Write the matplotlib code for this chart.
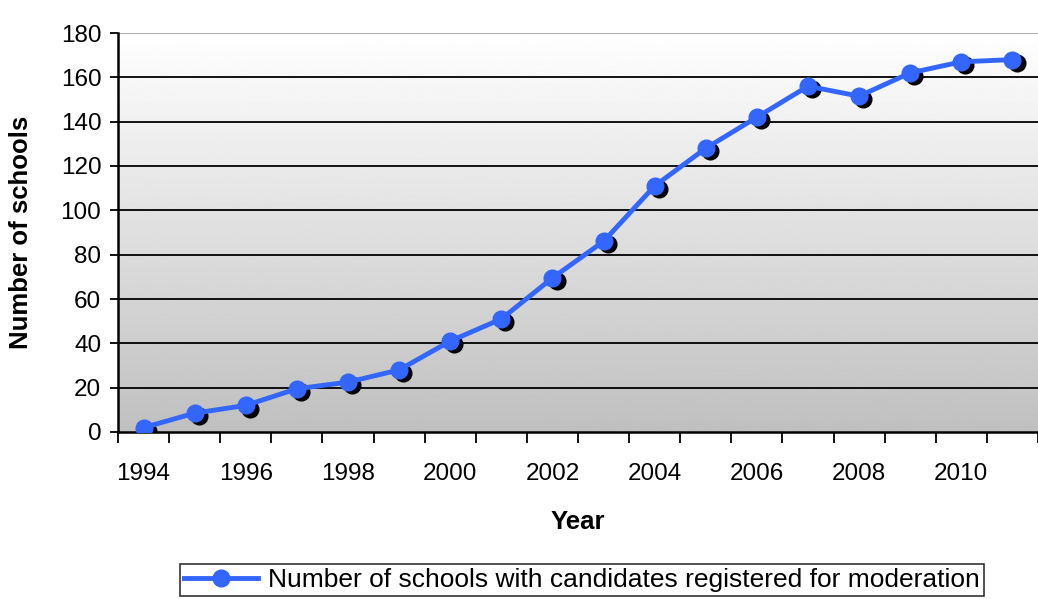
import numpy as np
import matplotlib.pyplot as plt
from matplotlib.lines import Line2D

years = [str(y) for y in range(1994, 2012)]
schools = [2, 8.5, 12, 19.5, 22.5, 28, 41, 51, 69.5, 86, 111, 128, 142, 156, 151.5, 162, 167, 168]

plt.rcParams['font.family'] = ['Liberation Sans', 'DejaVu Sans']

fig = plt.figure(figsize=(10.38, 5.99), dpi=100)
ax = fig.add_axes([118 / 1038, 1 - 432 / 599, 920 / 1038, 399 / 599])

n = len(years)
x = np.arange(n)

# gradient background, white at top to grey at bottom
grad = np.linspace(1.0, 0.75, 256).reshape(-1, 1)
ax.imshow(grad, extent=[-0.5, n - 0.5, 0, 180], aspect='auto', cmap='gray',
          vmin=0, vmax=1, zorder=0, origin='upper')
ax.set_xlim(-0.5, n - 0.5)
ax.set_ylim(0, 180)

for yv in range(20, 180, 20):
    ax.axhline(yv, color='black', lw=1.3, zorder=1)
ax.axhline(180, color='#b0b0b0', lw=1.5, zorder=1)

# shadow of markers
ax.plot(x + 0.08, np.array(schools) - 1.4, 'o', color='black', ms=12, zorder=2)
ax.plot(x, schools, '-o', color='#3366ff', lw=3.5, ms=12, zorder=3)

ax.set_yticks(range(0, 181, 20))
ax.set_xticks(np.arange(-0.5, n, 1))
ax.set_xticklabels([])
ax.set_xticks(x[::2], minor=True)
ax.set_xticklabels(years[::2], minor=True)
ax.tick_params(axis='x', which='minor', length=0, pad=22, labelsize=17.5)
ax.tick_params(axis='x', which='major', length=8, width=1.3, direction='out')
ax.tick_params(axis='y', length=6, width=1.3, direction='out', labelsize=17.5, pad=6)

for s in ['top', 'right']:
    ax.spines[s].set_visible(False)
ax.spines['left'].set_linewidth(1.8)
ax.spines['bottom'].set_linewidth(1.8)

ax.set_xlabel('Year', fontsize=18.5, fontweight='bold', labelpad=18)
ax.set_ylabel('Number of schools', fontsize=18.5, fontweight='bold', labelpad=20)

handle = Line2D([], [], color='#3366ff', lw=3.5, marker='o', ms=12)
leg = fig.legend([handle], ['Number of schools with candidates registered for moderation'],
                 loc='center', bbox_to_anchor=(582 / 1038, 1 - 580 / 599),
                 fontsize=19, frameon=True, fancybox=False, edgecolor='black',
                 handlelength=2.8, borderpad=0.15, handletextpad=0.4,
                 borderaxespad=0)
leg.get_frame().set_linewidth(1.2)

fig.savefig('out.png', dpi=100)
